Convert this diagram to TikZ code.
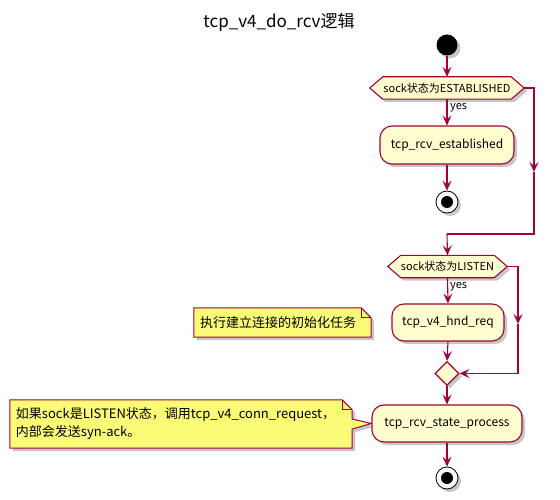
\documentclass[tikz,border=0pt]{standalone}
\usepackage{fontspec}
\setmainfont{Noto Sans CJK SC}
\usetikzlibrary{arrows.meta,shadows,shapes.geometric,backgrounds}
\definecolor{umlred}{HTML}{A80036}
\definecolor{actfill}{HTML}{FEFECE}
\definecolor{notefill}{HTML}{FBFB77}

\tikzset{
  flow/.style={draw=umlred, line width=1.1pt, -{Stealth[length=10pt,width=9pt,inset=4pt]}},
  plain/.style={draw=umlred, line width=1.1pt},
  shade/.style={drop shadow={shadow xshift=3pt,shadow yshift=-3pt,fill=black!40,opacity=0.55}},
  action/.style={draw=umlred, fill=actfill, line width=1.1pt, rounded corners=12pt,
    font=\fontsize{12}{14}\selectfont, shade, inner sep=0pt},
  guard/.style={font=\fontsize{11}{13}\selectfont, inner sep=0pt, minimum height=22pt},
  hexline/.style={draw=umlred, fill=actfill, line width=1.1pt, shade},
  memo/.style={draw=umlred, fill=notefill, line width=1pt, shade},
  memotext/.style={font=\fontsize{13}{18}\selectfont, align=left, inner xsep=6pt, inner ysep=0pt},
  lbl/.style={font=\fontsize{11}{13}\selectfont, inner sep=0pt, anchor=west},
  startdot/.style={circle, fill=black, minimum size=21pt, inner sep=0pt, shade},
  stopdot/.style={circle, draw=black, fill=white, line width=0.8pt, minimum size=22pt, inner sep=0pt, shade},
  merge/.style={diamond, draw=umlred, fill=actfill, line width=1.1pt, minimum width=24pt,
    minimum height=24pt, inner sep=0pt, shade},
}

\begin{document}
\begin{tikzpicture}[x=1pt,y=-1pt]
\useasboundingbox (0,0) rectangle (560,500);

% title
\node[font=\fontsize{17}{20}\selectfont] (title) at (279,22) {tcp\_v4\_do\_rcv逻辑};

% first check: established socket
\node[startdot] (s) at (447,45) {};
\node[guard, minimum width=128pt] (d1) at (447,88) {sock状态为ESTABLISHED};
\node[action, minimum width=134pt, minimum height=38pt] (b1) at (447,145) {tcp\_rcv\_established};
\node[stopdot] (e1) at (447,202) {};
\fill (e1.center) circle (6pt);

% second check: listening socket
\node[guard, minimum width=93pt] (d2) at (447.5,266.5) {sock状态为LISTEN};
\node[action, minimum width=112pt, minimum height=37pt] (b2) at (448,322.5) {tcp\_v4\_hnd\_req};
\node[merge] (j) at (447,373.5) {};
\node[action, minimum width=150pt, minimum height=37pt] (b3) at (447,423.5) {tcp\_rcv\_state\_process};
\node[stopdot] (e2) at (447,478) {};
\fill (e2.center) circle (6pt);

% hexagon outlines behind the guard texts
\begin{pgfonlayer}{background}
  \path[hexline] (d1.north west) -- (d1.north east) -- ([xshift=13pt]d1.east) -- (d1.south east)
    -- (d1.south west) -- ([xshift=-13pt]d1.west) -- cycle;
  \path[hexline] (d2.north west) -- (d2.north east) -- ([xshift=13pt]d2.east) -- (d2.south east)
    -- (d2.south west) -- ([xshift=-13pt]d2.west) -- cycle;
\end{pgfonlayer}

% connectors
\coordinate (r1a) at (534,88);
\coordinate (r1b) at (534,172);
\coordinate (r1c) at (534,234);
\coordinate (m1) at (447,234);
\coordinate (r2a) at (518,266.5);
\coordinate (r2b) at (518,324);
\coordinate (r2c) at (518,373.5);

\draw[flow] (s) -- (d1.north);
\draw[flow] (d1.south) -- (b1.north);
\node[lbl] (y1) at (450,108) {yes};
\draw[flow] (b1.south) -- (e1.north);
\draw[flow] ([xshift=13pt]d1.east) -- (r1a) -- (r1b);
\draw[plain] (r1b) -- (r1c) -- (m1);
\draw[flow] (m1) -- (d2.north);
\draw[flow] (d2.south) -- (b2.north);
\node[lbl] (y2) at (450,287) {yes};
\draw[flow] (b2.south) -- (j.north);
\draw[flow] ([xshift=13pt]d2.east) -- (r2a) -- (r2b);
\draw[flow] (r2b) -- (r2c) -- (j.east);
\draw[flow] (j.south) -- (b3.north);
\draw[flow] (b3.south) -- (e2.north);

% notes
\node[memotext, text width=165pt, minimum height=29pt] (n1) at (282.5,322.5) {执行建立连接的初始化任务};
\node[memotext, text width=330pt, minimum height=48pt] (n2) at (181,424) {如果sock是LISTEN状态，调用tcp\_v4\_conn\_request，\\内部会发送syn-ack。};
\begin{pgfonlayer}{background}
  \path[memo] (n1.north west) -- ([xshift=-10pt]n1.north east) -- ([yshift=-10pt]n1.north east)
    -- (n1.south east) -- (n1.south west) -- cycle;
  \draw[umlred, line width=1pt] ([xshift=-10pt]n1.north east) -- ([xshift=-10pt,yshift=-10pt]n1.north east)
    -- ([yshift=-10pt]n1.north east);
  \path[memo] (n2.north west) -- ([xshift=-10pt]n2.north east) -- ([yshift=-10pt]n2.north east)
    -- ([yshift=5pt]n2.east) -- (b3.west) -- ([yshift=-5pt]n2.east)
    -- (n2.south east) -- (n2.south west) -- cycle;
  \draw[umlred, line width=1pt] ([xshift=-10pt]n2.north east) -- ([xshift=-10pt,yshift=-10pt]n2.north east)
    -- ([yshift=-10pt]n2.north east);
\end{pgfonlayer}
\end{tikzpicture}
\end{document}
